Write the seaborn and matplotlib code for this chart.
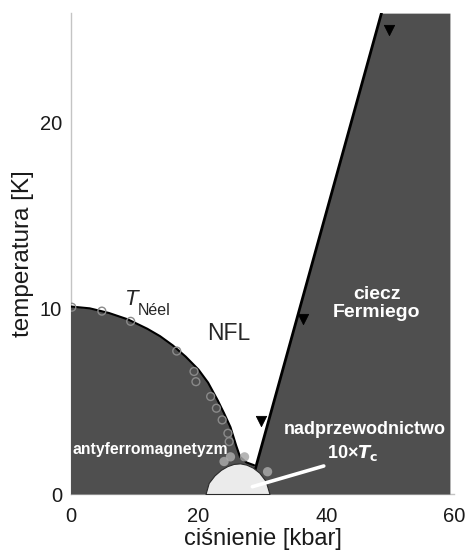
import numpy as np
import pandas as pd
import matplotlib
matplotlib.use("Agg")
import matplotlib.pyplot as plt
import seaborn as sns

# ---- data ----
neel_p = [0.0, 3.0, 6.0, 9.0, 12.0, 14.0, 16.0, 18.0, 20.0, 21.5, 23.0, 24.0, 25.0, 25.9, 26.5, 27.5, 28.7]
neel_T = [10.1, 10.0, 9.75, 9.4, 8.9, 8.5, 8.0, 7.4, 6.7, 6.0, 5.05, 4.35, 3.6, 2.6, 2.0, 1.7, 1.55]

fl_p = [27.8, 48.6]
fl_T = [0.0, 25.9]
fermi_right = 59.3

dome_p = [21.1, 21.6, 22.5, 23.5, 24.5, 25.5, 26.5, 27.5, 28.5, 29.5, 30.5, 31.1]
dome_T = [0.0, 0.6, 1.0, 1.3, 1.5, 1.62, 1.65, 1.58, 1.42, 1.15, 0.7, 0.0]

circ_p = [0.2, 4.9, 9.4, 16.6, 19.3, 19.6, 21.9, 22.8, 23.7, 24.6, 24.8]
circ_T = [10.06, 9.85, 9.3, 7.7, 6.6, 6.05, 5.25, 4.62, 3.99, 3.27, 2.82]

blob_p = [24.0, 25.0, 27.2, 30.8]
blob_T = [1.75, 2.0, 2.0, 1.2]

tri_p = [29.8, 36.4, 49.8]
tri_T = [3.92, 9.4, 25.0]

xticks = [0, 20, 40, 60]
yticks = [0, 10, 20]

dark = "#4f4f4f"

sns.set_theme(style="white")
plt.rcParams['font.family'] = ['Liberation Sans', 'DejaVu Sans']

fig = plt.figure(figsize=(4.67, 5.54), dpi=100)
ax = fig.add_axes([0.151, 0.1083, 0.822, 0.868])

# regions
ax.fill_between(neel_p, neel_T, 0, color=dark, lw=0, zorder=1)
ax.fill_betweenx(fl_T, fl_p, fermi_right, color=dark, lw=0, zorder=1)

# phase boundaries
sns.lineplot(x=neel_p, y=neel_T, sort=False, color="black", lw=1.5, ax=ax, zorder=3)
sns.lineplot(x=fl_p, y=fl_T, sort=False, color="black", lw=2.0, ax=ax, zorder=3)

# superconducting dome
ax.fill_between(dome_p, dome_T, 0, color="#ebebeb", lw=0.8, edgecolor="#2a2a2a", zorder=4)

# markers
sns.scatterplot(x=circ_p, y=circ_T, marker="o", s=32, facecolor="none",
                edgecolor="#8a8a8a", linewidth=1.0, ax=ax, zorder=5)
sns.scatterplot(x=blob_p, y=blob_T, marker="o", s=45, color="#a8a8a8",
                edgecolor="none", alpha=0.85, ax=ax, zorder=5)
sns.scatterplot(x=tri_p, y=tri_T, marker="v", s=55, color="black",
                edgecolor="black", ax=ax, zorder=6)

# texts
ax.text(9.6, 10.5, "T", style="italic", fontsize=16, ha="center", va="center", zorder=7)
ax.text(13.0, 9.88, "Néel", fontsize=11.5, ha="center", va="center", zorder=7)
ax.text(24.8, 8.66, "NFL", fontsize=16.5, ha="center", va="center", zorder=7)
ax.text(47.9, 10.25, "ciecz\nFermiego", fontsize=14, fontweight="bold", color="white",
        ha="center", va="center", linespacing=1.1, zorder=7)
ax.text(46.0, 3.45, "nadprzewodnictwo", fontsize=13, fontweight="bold", color="white",
        ha="center", va="center", zorder=7)
ax.text(12.4, 2.4, "antyferromagnetyzm", fontsize=11.3, fontweight="bold", color="white",
        ha="center", va="center", zorder=7)
ax.text(44.2, 2.19, r"10×$\boldsymbol{T}_{\mathbf{c}}$", fontsize=13, fontweight="bold",
        color="white", ha="center", va="center", zorder=7)
ax.annotate("", xy=(28.0, 0.35), xytext=(40.0, 1.55),
            arrowprops=dict(arrowstyle="-", color="white", lw=2.6), zorder=7)

# axes styling
ax.set_xlim(0, 60)
ax.set_ylim(0, 25.9)
ax.set_xticks(xticks)
ax.set_yticks(yticks)
ax.tick_params(axis="both", direction="in", length=8, width=1, color="#c4c4c4",
               labelsize=14.5, labelcolor="#1a1a1a")
ax.tick_params(axis="y", pad=6)
ax.tick_params(axis="x", pad=9)
for s in ["top", "right"]:
    ax.spines[s].set_visible(False)
for s in ["left", "bottom"]:
    ax.spines[s].set_color("#c4c4c4")
    ax.spines[s].set_linewidth(1)
    ax.spines[s].set_zorder(0.5)
ax.set_xlabel("ciśnienie [kbar]", fontsize=17, color="#1a1a1a", labelpad=2)
ax.set_ylabel("temperatura [K]", fontsize=17.5, color="#1a1a1a", labelpad=4)

fig.savefig("out.png", dpi=100)
